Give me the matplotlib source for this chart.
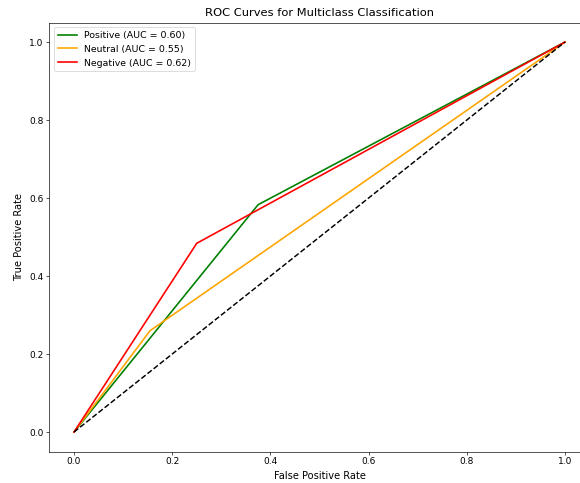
import matplotlib
matplotlib.use("Agg")
import matplotlib.pyplot as plt

# ROC points (one threshold point per class)
classes = ["Positive", "Neutral", "Negative"]
auc_values = [0.60, 0.55, 0.62]
fpr_values = [[0.0, 0.375, 1.0], [0.0, 0.155, 1.0], [0.0, 0.25, 1.0]]
tpr_values = [[0.0, 0.583, 1.0], [0.0, 0.26, 1.0], [0.0, 0.484, 1.0]]
colors = ["green", "orange", "red"]

dpi = 59
fig = plt.figure(figsize=(580 / dpi, 483 / dpi), dpi=dpi)
ax = fig.add_axes([0.0853, 0.0652, 0.931, 0.888])

for name, auc, fpr, tpr, c in zip(classes, auc_values, fpr_values, tpr_values, colors):
    ax.plot(fpr, tpr, color=c, lw=2, label=f"{name} (AUC = {auc:.2f})")
ax.plot([0, 1], [0, 1], "k--", lw=1.8)

ax.set_title("ROC Curves for Multiclass Classification", fontsize=14, pad=8)
ax.set_xlabel("False Positive Rate", fontsize=12, labelpad=6)
ax.set_ylabel("True Positive Rate", fontsize=12, labelpad=7)
ax.tick_params(labelsize=11)
ax.legend(loc="upper left", fontsize=11.5)

fig.savefig("out.png", dpi=dpi)
